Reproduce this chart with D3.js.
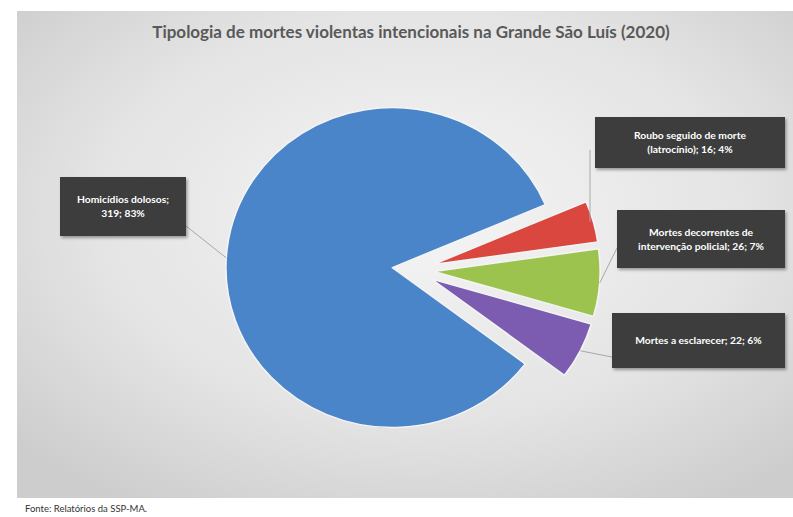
<!DOCTYPE html>
<html>
<head>
<meta charset="utf-8">
<script src="https://cdn.jsdelivr.net/npm/d3@7"></script>
<style>
  html, body { margin: 0; padding: 0; background: #ffffff; }
  svg { display: block; }
</style>
</head>
<body>
<svg id="chart" width="793" height="517"></svg>
<script>
// Tipologia de mortes violentas intencionais — Grande São Luís, 2020
const categories = [
  "Homicídios dolosos",
  "Roubo seguido de morte (latrocínio)",
  "Mortes decorrentes de intervenção policial",
  "Mortes a esclarecer"
];
const values = [319, 16, 26, 22];
const percentLabels = ["83%", "4%", "7%", "6%"];
// label text split into lines as shown in each callout box
const labelLines = [
  ["Homicídios dolosos;", "319; 83%"],
  ["Roubo seguido de morte", "(latrocínio); 16; 4%"],
  ["Mortes decorrentes de", "intervenção policial; 26; 7%"],
  ["Mortes a esclarecer; 22; 6%"]
];
const colors = ["#4a84c9", "#d9473f", "#9cc34e", "#7c5cb0"];

const title = "Tipologia de mortes violentas intencionais na Grande São Luís (2020)";
const source = "Fonte: Relatórios da SSP-MA.";

const svg = d3.select("#chart");
const defs = svg.append("defs");

// plot background: soft radial grey gradient
const bg = defs.append("radialGradient")
  .attr("id", "bgGrad").attr("cx", "52%").attr("cy", "42%").attr("r", "70%");
bg.append("stop").attr("offset", "0%").attr("stop-color", "#f5f5f5");
bg.append("stop").attr("offset", "60%").attr("stop-color", "#e4e4e4");
bg.append("stop").attr("offset", "100%").attr("stop-color", "#cdcdcd");

const shadow = defs.append("filter").attr("id", "boxShadow")
  .attr("x", "-10%").attr("y", "-10%").attr("width", "130%").attr("height", "140%");
shadow.append("feDropShadow").attr("dx", 1.5).attr("dy", 2).attr("stdDeviation", 1.5)
  .attr("flood-color", "#000").attr("flood-opacity", 0.35);

svg.append("rect")
  .attr("x", 17).attr("y", 11).attr("width", 776).attr("height", 487)
  .attr("fill", "url(#bgGrad)");

svg.append("text")
  .attr("x", 411).attr("y", 38)
  .attr("text-anchor", "middle")
  .attr("font-family", "Lato, 'Open Sans', sans-serif")
  .attr("font-weight", "bold")
  .attr("font-size", 17)
  .attr("fill", "#595959")
  .text(title);

// pie geometry (the plot is drawn slightly wider than tall)
const cx = 413, cy = 270, radius = 160, explode = 20, stretchX = 1.04;
const start = 127 * Math.PI / 180;
const pie = d3.pie().sort(null).value(d => d)
  .startAngle(start).endAngle(start + 2 * Math.PI);
const arcs = pie(values);
const arc = d3.arc().innerRadius(0).outerRadius(radius);

const offsetOf = d => {
  const a = (d.startAngle + d.endAngle) / 2;
  return [Math.sin(a) * explode, -Math.cos(a) * explode];
};
// screen position of a point on a slice's outer arc at angle a
const arcPoint = (d, a) => {
  const [ox, oy] = offsetOf(d);
  return [cx + (ox + Math.sin(a) * radius) * stretchX, cy + oy - Math.cos(a) * radius];
};

const pieG = svg.append("g")
  .attr("transform", `translate(${cx},${cy}) scale(${stretchX},1)`);
pieG.selectAll("path.slice")
  .data(arcs)
  .join("path")
  .attr("class", "slice")
  .attr("transform", d => `translate(${offsetOf(d)})`)
  .attr("d", arc)
  .attr("fill", (d, i) => colors[i])
  .attr("stroke", "#f4f4f4")
  .attr("stroke-width", 1.5)
  .attr("stroke-linejoin", "round");

// callout boxes
const boxes = [
  { x: 60, y: 177, w: 126, h: 59 },
  { x: 595, y: 117, w: 190, h: 51 },
  { x: 617, y: 210, w: 168, h: 58 },
  { x: 612, y: 313, w: 173, h: 55 }
];
// leader line start point on each box
const anchors = [
  { x: 186, y: 226 },
  { x: 590, y: 150 },
  { x: 617, y: 248 },
  { x: 612, y: 357 }
];
// angular shift from each slice's middle to where its leader meets the arc
const leaderShift = [-0.06, 0, 0, 0];

const leaderG = svg.append("g");
arcs.forEach((d, i) => {
  const a = (d.startAngle + d.endAngle) / 2 + leaderShift[i];
  const [ex, ey] = arcPoint(d, a);
  const pts = i === 1
    ? [[anchors[i].x, anchors[i].y], [anchors[i].x, ey]]
    : [[anchors[i].x, anchors[i].y], [ex, ey]];
  leaderG.append("path")
    .attr("d", d3.line()(pts))
    .attr("fill", "none")
    .attr("stroke", "#a8a8a8")
    .attr("stroke-width", 1);
});

const boxG = svg.append("g");
boxes.forEach((b, i) => {
  const g = boxG.append("g");
  g.append("rect")
    .attr("x", b.x).attr("y", b.y).attr("width", b.w).attr("height", b.h)
    .attr("fill", "#3d3d3d")
    .attr("filter", "url(#boxShadow)");
  const lines = labelLines[i];
  const lh = 14;
  const y0 = b.y + b.h / 2 - (lines.length - 1) * lh / 2 + 3.8;
  lines.forEach((t, j) => {
    g.append("text")
      .attr("x", b.x + b.w / 2)
      .attr("y", y0 + j * lh)
      .attr("text-anchor", "middle")
      .attr("font-family", "Lato, 'Open Sans', sans-serif")
      .attr("font-weight", "bold")
      .attr("font-size", 10.3)
      .attr("fill", "#ffffff")
      .text(t);
  });
});

svg.append("text")
  .attr("x", 25).attr("y", 512)
  .attr("font-family", "Lato, 'Open Sans', sans-serif")
  .attr("font-size", 9.5)
  .attr("fill", "#333")
  .text(source);
</script>
</body>
</html>
